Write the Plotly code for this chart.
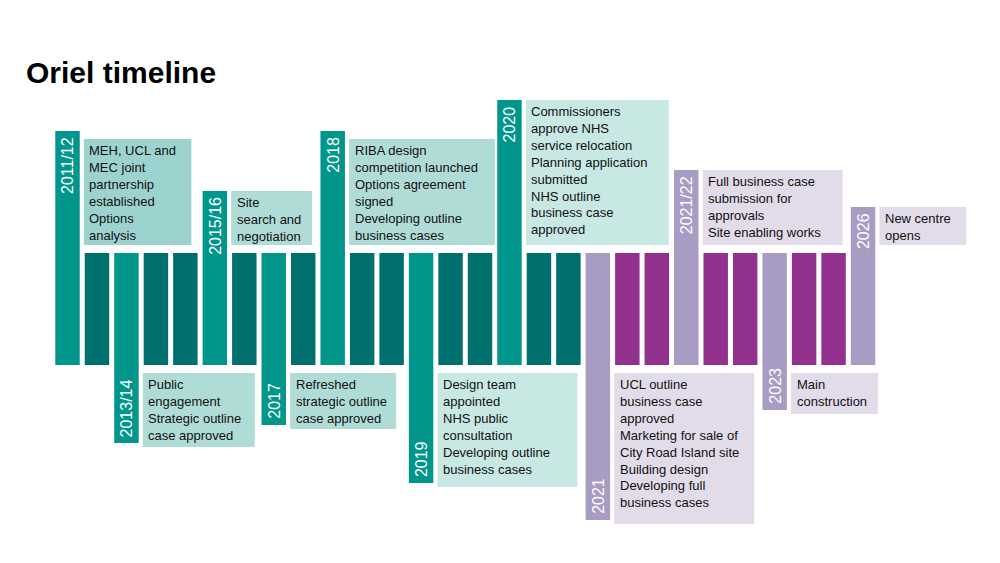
import plotly.graph_objects as go

# 28 columns, vertical levels measured top-down (0 = top of slide)
tops = [131, 253, 253, 253, 253, 191, 253, 253, 253, 131, 253, 253, 253, 253,
        253, 100, 253, 253, 253, 253, 253, 170, 253, 253, 253, 253, 253, 207]
bottoms = [365, 365, 443, 365, 365, 365, 365, 425, 365, 365, 365, 365, 483, 365,
           365, 365, 365, 365, 520, 365, 365, 365, 365, 365, 410, 365, 365, 365]
colors = ["#00968b", "#00706e", "#00968b", "#00706e", "#00706e", "#00968b", "#00706e",
          "#00968b", "#00706e", "#00968b", "#00706e", "#00706e", "#00968b", "#00706e",
          "#00706e", "#00968b", "#00706e", "#00706e", "#a89bc4", "#93318e", "#93318e",
          "#a89bc4", "#93318e", "#93318e", "#a89bc4", "#93318e", "#93318e", "#a89bc4"]

# year markers: (column, label, up/down, box text, box width in columns, box colour)
years = [
    (0, "2011/12", "up", "MEH, UCL and<br>MEC joint<br>partnership<br>established<br>Options<br>analysis", 3.65, "#9dd3cf"),
    (2, "2013/14", "down", "Public<br>engagement<br>Strategic outline<br>case approved", 3.8, "#b0dcd8"),
    (5, "2015/16", "up", "Site<br>search and<br>negotiation", 2.75, "#b0dcd8"),
    (7, "2017", "down", "Refreshed<br>strategic outline<br>case approved", 3.6, "#b0dcd8"),
    (9, "2018", "up", "RIBA design<br>competition launched<br>Options agreement<br>signed<br>Developing outline<br>business cases", 4.95, "#b0dcd8"),
    (12, "2019", "down", "Design team<br>appointed<br>NHS public<br>consultation<br>Developing outline<br>business cases", 4.75, "#c8e8e4"),
    (15, "2020", "up", "Commissioners<br>approve NHS<br>service relocation<br>Planning application<br>submitted<br>NHS outline<br>business case<br>approved", 4.85, "#c8e8e4"),
    (18, "2021", "down", "UCL outline<br>business case<br>approved<br>Marketing for sale of<br>City Road Island site<br>Building design<br>Developing full<br>business cases", 4.75, "#e2dcea"),
    (21, "2021/22", "up", "Full business case<br>submission for<br>approvals<br>Site enabling works", 4.75, "#e2dcea"),
    (24, "2023", "down", "Main<br>construction", 2.95, "#e2dcea"),
    (27, "2026", "up", "New centre<br>opens", 2.95, "#e2dcea"),
]

cols = list(range(len(tops)))
fig = go.Figure(go.Bar(
    x=cols, y=[b - t for t, b in zip(tops, bottoms)], base=tops,
    marker=dict(color=colors, line_width=0), width=0.83, hoverinfo="skip",
))

gap = 0.14
for c, label, way, text, w, fill in years:
    x0 = c + 0.415 + gap
    if way == "up":
        y0, y1 = tops[c] + (8 if tops[c] == 131 else 0), 245
        fig.add_annotation(x=c, y=tops[c] + 4, text=label, textangle=-90,
                           xanchor="center", yanchor="top", showarrow=False,
                           font=dict(size=16, color="white", family="Liberation Sans"))
    else:
        y0, y1 = 373, bottoms[c] + 4
        fig.add_annotation(x=c, y=bottoms[c] - 4, text=label, textangle=-90,
                           xanchor="center", yanchor="bottom", showarrow=False,
                           font=dict(size=16, color="white", family="Liberation Sans"))
    fig.add_shape(type="rect", x0=x0, x1=x0 + w, y0=y0, y1=y1,
                  fillcolor=fill, line_width=0, layer="below")
    fig.add_annotation(x=x0 + 0.12, y=y0 + 2, text=text, align="left",
                       xanchor="left", yanchor="top", showarrow=False,
                       font=dict(size=13, color="#111", family="Liberation Sans"))

fig.add_annotation(x=0.016, y=72, xref="paper", yref="y", xanchor="left", yanchor="middle",
                   text="<b>Oriel timeline</b>", showarrow=False,
                   font=dict(size=30, color="black", family="Liberation Sans"))

fig.update_layout(
    width=1000, height=563, margin=dict(l=0, r=0, t=0, b=0),
    paper_bgcolor="white", plot_bgcolor="white", showlegend=False,
    xaxis=dict(range=[-2.02, 31.92], visible=False),
    yaxis=dict(range=[571, 8], visible=False),
)
fig.write_html("out.html")
